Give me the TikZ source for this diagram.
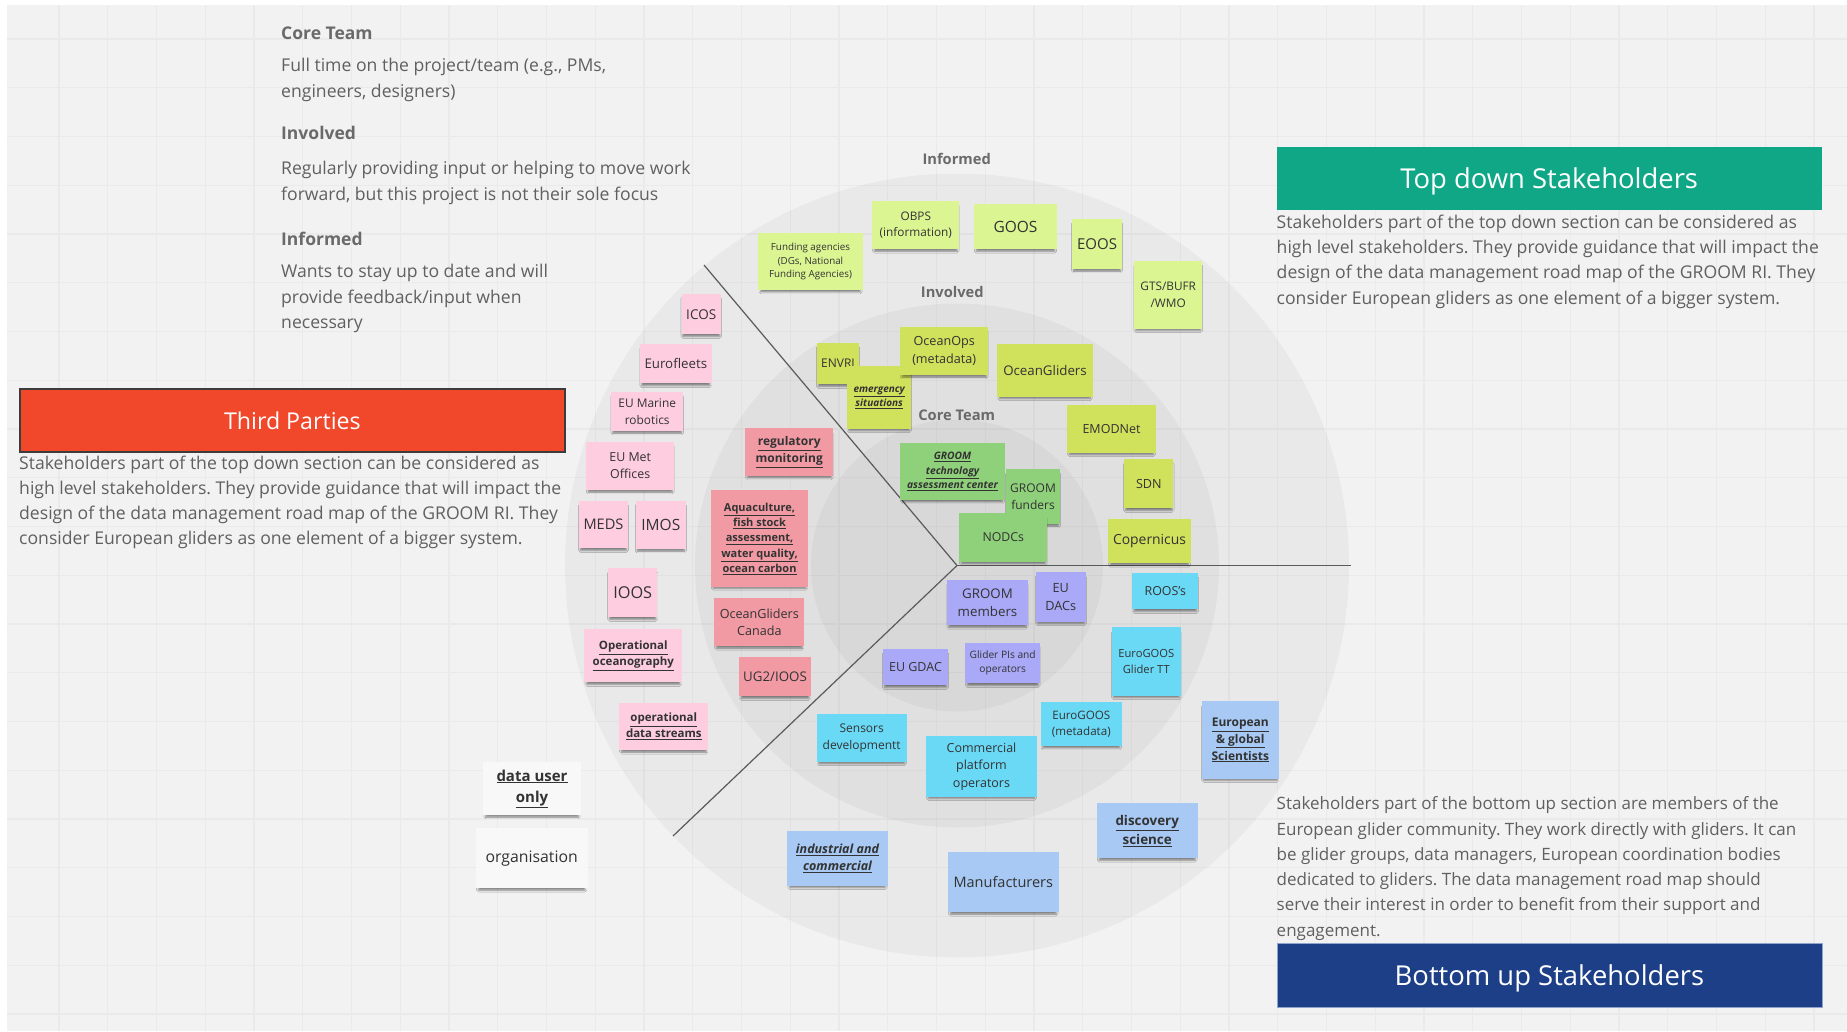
\documentclass[tikz,border=0pt]{standalone}
\usepackage{fontspec}
\setmainfont{Open Sans}
\usetikzlibrary{shadows.blur}
\frenchspacing

\definecolor{canvas}{HTML}{F2F2F2}
\definecolor{gridc}{HTML}{EAEAEA}
\definecolor{bodygray}{HTML}{606060}
\definecolor{headgray}{HTML}{6A6A6A}
\definecolor{divider}{HTML}{5A5A5A}
\definecolor{notetext}{HTML}{333333}
\definecolor{limeA}{HTML}{DBF593}
\definecolor{limeB}{HTML}{D0E15C}
\definecolor{grn}{HTML}{8FD07A}
\definecolor{pinkA}{HTML}{FECDE0}
\definecolor{pinkB}{HTML}{F19AA4}
\definecolor{purp}{HTML}{A9A9F7}
\definecolor{cyanN}{HTML}{6AD9F6}
\definecolor{blueN}{HTML}{A7C9F3}
\definecolor{whiteN}{HTML}{F8F8F8}
\definecolor{teal}{HTML}{10A787}
\definecolor{redor}{HTML}{F1472A}
\definecolor{redline}{HTML}{3C3C3C}
\definecolor{navy}{HTML}{1C3F87}
\definecolor{navyline}{HTML}{8FA3CC}

\newcommand\fsz[1]{\fontsize{#1pt}{\dimexpr #1pt*7/5\relax}\selectfont}
\newcommand\uln[1]{\underline{#1}}

\tikzset{
  note/.style={fill=#1, text=notetext, align=center, inner sep=1pt,
    blur shadow={shadow xshift=0pt, shadow yshift=-3.5pt, shadow scale=0.95,
      shadow blur radius=2pt, shadow opacity=45}},
  body/.style={anchor=base west, inner sep=0pt, text=bodygray, font=\fsz{17.6}},
  bodyb/.style={anchor=base west, inner sep=0pt, text=bodygray, font=\fsz{17}},
  head/.style={anchor=base west, inner sep=0pt, text=headgray, font=\fsz{17.5}\bfseries},
  ring/.style={anchor=center, inner sep=0pt, text=headgray, font=\fsz{14.7}\bfseries},
  titlebox/.style={fill=#1, text=white, inner sep=0pt, anchor=north west, text depth=0pt},
  gridline/.style={draw=gridc, line width=1.2pt},
  sector/.style={draw=divider, line width=1.2pt}
}

\begin{document}
\begin{tikzpicture}[x=1pt,y=-1pt]
\useasboundingbox (0,0) rectangle (1847,1031);
\fill[white] (0,0) rectangle (1847,1031);
\fill[canvas] (7,5) rectangle (1847,1031);

% board grid
\foreach \k in {0,...,36} \draw[gridline] ({59+48.75*\k},5) -- ({59+48.75*\k},1031);
\foreach \k in {0,...,20} \draw[gridline] (7,{39+48.75*\k}) -- (1847,{39+48.75*\k});

% concentric rings: informed, involved, core team
\coordinate (ctr) at (957,565.5);
\fill[black, opacity=0.035] (ctr) circle[radius=392pt];
\fill[black, opacity=0.035] (ctr) circle[radius=262pt];
\fill[black, opacity=0.035] (ctr) circle[radius=146pt];

% sector dividers
\coordinate (eR) at (1351,565.5);
\coordinate (eU) at (704,265);
\coordinate (eD) at (673,836);
\draw[sector] (ctr) -- (eR);
\draw[sector] (ctr) -- (eU);
\draw[sector] (ctr) -- (eD);

% ring labels
\node[ring] (lInf) at (956.7,159.3) {Informed};
\node[ring] (lInv) at (952.3,292.3) {Involved};
\node[ring] (lCore) at (956.7,415) {Core Team};

% legend
\node[head] (h1) at (281,39) {Core Team};
\node[body] (b1a) at (281,71.5) {Full time on the project/team (e.g., PMs,};
\node[body] (b1b) at (281,97) {engineers, designers)};
\node[head] (h2) at (281,139) {Involved};
\node[body] (b2a) at (281,174.5) {Regularly providing input or helping to move work};
\node[body] (b2b) at (281,200) {forward, but this project is not their sole focus};
\node[head] (h3) at (281,245) {Informed};
\node[body] (b3a) at (281,277.5) {Wants to stay up to date and will};
\node[body] (b3b) at (281,303) {provide feedback/input when};
\node[body] (b3c) at (281,328.5) {necessary};

% third parties
\node[titlebox=redor, draw=redline, line width=1.8pt, minimum width=545pt, minimum height=63pt,
  font=\fsz{23.2}] (tpbox) at (19,388) {Third Parties};
\node[body] (tp1) at (19,469.5) {Stakeholders part of the top down section can be considered as};
\node[body] (tp2) at (19,494.5) {high level stakeholders. They provide guidance that will impact the};
\node[body] (tp3) at (19,519) {design of the data management road map of the GROOM RI. They};
\node[body] (tp4) at (19,544) {consider European gliders as one element of a bigger system.};

% top down
\node[titlebox=teal, minimum width=545pt, minimum height=63.3pt, font=\fsz{27.4}] (tdbox) at (1276.5,146.7) {Top down Stakeholders};
\node[body] (td1) at (1276.5,228) {Stakeholders part of the top down section can be considered as};
\node[body] (td2) at (1276.5,253) {high level stakeholders. They provide guidance that will impact the};
\node[body] (td3) at (1276.5,278.5) {design of the data management road map of the GROOM RI. They};
\node[body] (td4) at (1276.5,304) {consider European gliders as one element of a bigger system.};

% bottom up
\node[bodyb] (bu1) at (1276.5,809.5) {Stakeholders part of the bottom up section are members of the};
\node[bodyb] (bu2) at (1276.5,835) {European glider community. They work directly with gliders. It can};
\node[bodyb] (bu3) at (1276.5,860.5) {be glider groups, data managers, European coordination bodies};
\node[bodyb] (bu4) at (1276.5,885) {dedicated to gliders. The data management road map should};
\node[bodyb] (bu5) at (1276.5,910.5) {serve their interest in order to benefit from their support and};
\node[bodyb] (bu6) at (1276.5,936) {engagement.};
\node[titlebox=navy, draw=navyline, line width=0.8pt, minimum width=545pt, minimum height=64pt,
  font=\fsz{27.4}] (bubox) at (1276.5,942.7) {Bottom up Stakeholders};

% informed, top down
\node[note=limeA, minimum width=104.4pt, minimum height=56.7pt, font=\fsz{9.8}] (fund) at (810.5,261.7) {Funding agencies\\(DGs, National\\Funding Agencies)};
\node[note=limeA, minimum width=87pt, minimum height=48pt, font=\fsz{11.8}] (obps) at (915.8,225) {OBPS\\(information)};
\node[note=limeA, minimum width=82.4pt, minimum height=44.7pt, font=\fsz{15.5}] (goos) at (1015.5,226.7) {GOOS};
\node[note=limeA, minimum width=49.4pt, minimum height=50pt, font=\fsz{15}] (eoos) at (1097,244) {EOOS};
\node[note=limeA, minimum width=68.3pt, minimum height=68.3pt, font=\fsz{11.8}] (gts) at (1168.2,294.8) {GTS/BUFR\\/WMO};

% involved, top down
\node[note=limeB, minimum width=41.4pt, minimum height=40.7pt, font=\fsz{12}] (envri) at (838,363.7) {ENVRI};
\node[note=limeB, minimum width=63.7pt, minimum height=63pt, font=\fsz{10}\bfseries\itshape] (emerg) at (879.2,397.5) {\uln{emergency}\\\uln{situations}};
\node[note=limeB, minimum width=88.3pt, minimum height=48.3pt, font=\fsz{12.6}] (oops) at (944.2,350.8) {OceanOps\\(metadata)};
\node[note=limeB, minimum width=95.4pt, minimum height=52.7pt, font=\fsz{13.3}] (ogl) at (1045,370.3) {OceanGliders};
\node[note=limeB, minimum width=88.4pt, minimum height=47.7pt, font=\fsz{12.5}] (emod) at (1111.5,428.8) {EMODNet};
\node[note=limeB, minimum width=49pt, minimum height=49pt, font=\fsz{12.6}] (sdn) at (1148.8,483.8) {SDN};
\node[note=limeB, minimum width=82.4pt, minimum height=44pt, font=\fsz{13.9}] (cop) at (1149.5,541) {Copernicus};

% core team, top down
\node[note=grn, minimum width=105pt, minimum height=56.7pt, font=\fsz{10.3}\bfseries\itshape] (gtac) at (952.5,471.7) {\uln{GROOM}\\\uln{technology}\\\uln{assessment center}};
\node[note=grn, minimum width=54pt, minimum height=54.7pt, font=\fsz{12}] (gfund) at (1033,496.7) {GROOM\\funders};
\node[note=grn, minimum width=88pt, minimum height=48.4pt, font=\fsz{12.3}] (nodc) at (1003.3,537.5) {NODCs};

% informed, third parties
\node[note=pinkA, minimum width=39pt, minimum height=39.7pt, font=\fsz{13.5}] (icos) at (701.2,314.2) {ICOS};
\node[note=pinkA, minimum width=71.7pt, minimum height=39.3pt, font=\fsz{13.3}] (eurof) at (675.8,363.7) {Eurofleets};
\node[note=pinkA, minimum width=72.3pt, minimum height=38.4pt, font=\fsz{11.9}] (eumar) at (647.2,411.5) {EU Marine\\robotics};
\node[note=pinkA, minimum width=88.3pt, minimum height=48.3pt, font=\fsz{12.4}] (eumet) at (630.2,465.8) {EU Met\\Offices};
\node[note=pinkA, minimum width=48.4pt, minimum height=47.6pt, font=\fsz{14.6}] (meds) at (603.5,524.5) {MEDS};
\node[note=pinkA, minimum width=49.7pt, minimum height=48.3pt, font=\fsz{15.5}] (imos) at (660.8,524.8) {IMOS};
\node[note=pinkA, minimum width=48.7pt, minimum height=49pt, font=\fsz{16.3}] (ioos) at (632.7,592.8) {IOOS};
\node[note=pinkA, minimum width=98pt, minimum height=53.3pt, font=\fsz{11.5}\bfseries] (opoc) at (633.3,655.7) {\uln{Operational}\\\uln{oceanography}};
\node[note=pinkA, minimum width=89pt, minimum height=47.3pt, font=\fsz{11.5}\bfseries] (opds) at (663.8,726.3) {\uln{operational}\\\uln{data streams}};

% involved, third parties
\node[note=pinkB, minimum width=88.3pt, minimum height=47.4pt, font=\fsz{12}\bfseries] (regm) at (789.2,452) {\uln{regulatory}\\\uln{monitoring}};
\node[note=pinkB, minimum width=97.6pt, minimum height=97.3pt, font=\fsz{11}\bfseries] (aqua) at (759.5,538.7) {\uln{Aquaculture,}\\\uln{fish stock}\\\uln{assessment,}\\\uln{water quality,}\\\uln{ocean carbon}};
\node[note=pinkB, minimum width=90pt, minimum height=47.7pt, font=\fsz{12.6}] (ogc) at (759.3,622.2) {OceanGliders\\Canada};
\node[note=pinkB, minimum width=71.4pt, minimum height=38.7pt, font=\fsz{13.3}] (ug2) at (775,676.7) {UG2/IOOS};

% core team, bottom up
\node[note=purp, minimum width=81.6pt, minimum height=44.7pt, font=\fsz{13.3}] (gmem) at (987.5,602.7) {GROOM\\members};
\node[note=purp, minimum width=49.7pt, minimum height=49.4pt, font=\fsz{12.7}] (eudac) at (1060.8,597) {EU\\DACs};
\node[note=purp, minimum width=65.6pt, minimum height=35.7pt, font=\fsz{12.5}] (gdac) at (915.5,667.2) {EU GDAC};
\node[note=purp, minimum width=74.7pt, minimum height=40.6pt, font=\fsz{10.2}] (gpis) at (1002.7,663) {Glider PIs and\\operators};

% involved, bottom up
\node[note=cyanN, minimum width=66pt, minimum height=35.7pt, font=\fsz{12.4}] (roos) at (1165.3,591.2) {ROOS's};
\node[note=cyanN, minimum width=69.3pt, minimum height=68.7pt, font=\fsz{11.2}] (eggtt) at (1146.3,661.7) {EuroGOOS\\Glider TT};
\node[note=cyanN, minimum width=80.7pt, minimum height=43.4pt, font=\fsz{11.6}] (egmeta) at (1081.3,724) {EuroGOOS\\(metadata)};
\node[note=cyanN, minimum width=90pt, minimum height=47.7pt, font=\fsz{12}] (sens) at (861.7,737.8) {Sensors\\developmentt};
\node[note=cyanN, minimum width=111.6pt, minimum height=60.7pt, font=\fsz{12.5}] (cpo) at (981.5,766.3) {Commercial\\platform\\operators};

% informed, bottom up
\node[note=blueN, minimum width=77.3pt, minimum height=78pt, font=\fsz{12}\bfseries] (egs) at (1240.3,740) {\uln{European}\\\uln{\& global}\\\uln{Scientists}};
\node[note=blueN, minimum width=101pt, minimum height=55pt, font=\fsz{13.4}\bfseries] (disc) at (1147.2,830.8) {\uln{discovery}\\\uln{science}};
\node[note=blueN, minimum width=100.4pt, minimum height=54.7pt, font=\fsz{12.5}\bfseries\itshape] (indc) at (837.5,858.3) {\uln{industrial and}\\\uln{commercial}};
\node[note=blueN, minimum width=111.3pt, minimum height=60pt, font=\fsz{14.5}] (manu) at (1003.3,882.3) {Manufacturers};

% key notes
\node[note=whiteN, minimum width=97.4pt, minimum height=52.7pt, font=\fsz{15}\bfseries] (duo) at (532,788.7) {\uln{data user}\\\uln{only}};
\node[note=whiteN, minimum width=112pt, minimum height=60pt, font=\fsz{15.8}] (org) at (531.7,858.3) {organisation};
\end{tikzpicture}
\end{document}
